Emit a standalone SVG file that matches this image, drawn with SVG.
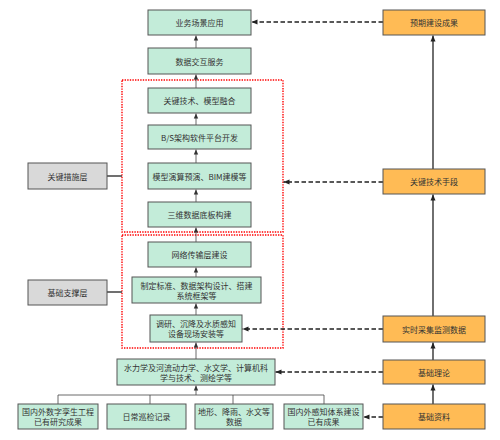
<svg xmlns="http://www.w3.org/2000/svg" width="500" height="440" viewBox="0 0 500 440">
<defs>
<style>
.g{fill:#c3ecd9;stroke:#555;stroke-width:1}
.o{fill:#ffbb55;stroke:#555;stroke-width:1}
.y{fill:#d9d9d9;stroke:#555;stroke-width:1}
text{font-family:"Noto Sans CJK SC","Liberation Sans",sans-serif;font-size:8px;fill:#333;text-anchor:middle;dominant-baseline:central}
.ln{stroke:#444;stroke-width:0.8;fill:none}
.lo{stroke:#222;stroke-width:1.3;fill:none}
.ds{stroke:#222;stroke-width:1.4;fill:none;stroke-dasharray:4.5,2.5}
.rd{stroke:#f00;stroke-width:1.4;fill:none;stroke-dasharray:1.4,1.2}
</style>
<marker id="a" markerWidth="6" markerHeight="6" refX="5" refY="3" orient="auto" markerUnits="userSpaceOnUse"><path d="M0,0.8 L5,3 L0,5.2 z" fill="#333"/></marker>
<marker id="b" markerWidth="8" markerHeight="8" refX="6" refY="4" orient="auto" markerUnits="userSpaceOnUse"><path d="M0,1.5 L6,4 L0,6.5 z" fill="#222"/></marker>
</defs>
<g id="frames">
<rect class="rd" x="122" y="80" width="161" height="152"/>
<rect class="rd" x="122" y="235" width="161" height="113"/>
</g>
<g id="connectors">
<line class="ln" x1="196" y1="48" x2="196" y2="35.5" marker-end="url(#a)"/>
<line class="ln" x1="196" y1="88" x2="196" y2="74.5" marker-end="url(#a)"/>
<line class="ln" x1="196" y1="125" x2="196" y2="113.5" marker-end="url(#a)"/>
<line class="ln" x1="196" y1="163" x2="196" y2="149.5" marker-end="url(#a)"/>
<line class="ln" x1="196" y1="202" x2="196" y2="189.5" marker-end="url(#a)"/>
<line class="ln" x1="196" y1="242" x2="196" y2="227.5" marker-end="url(#a)"/>
<line class="ln" x1="196" y1="277" x2="196" y2="267.5" marker-end="url(#a)"/>
<line class="ln" x1="196" y1="315" x2="196" y2="303.5" marker-end="url(#a)"/>
<line class="ln" x1="196" y1="359" x2="196" y2="342.5" marker-end="url(#a)"/>
<line class="ln" x1="196" y1="395" x2="196" y2="385.5" marker-end="url(#a)"/>
<polyline class="ln" points="58,404 58,395 324,395 324,404"/>
<line class="ln" x1="150" y1="395" x2="150" y2="404"/>
<line class="ln" x1="233" y1="395" x2="233" y2="404"/>
<line class="lo" x1="107" y1="176" x2="122" y2="176"/>
<line class="lo" x1="107" y1="292" x2="122" y2="292"/>
<line class="lo" x1="433" y1="404" x2="433" y2="384.5" marker-end="url(#b)"/>
<line class="lo" x1="433" y1="360" x2="433" y2="342.5" marker-end="url(#b)"/>
<line class="lo" x1="433" y1="316" x2="433" y2="194.5" marker-end="url(#b)"/>
<line class="lo" x1="433" y1="169" x2="433" y2="35.5" marker-end="url(#b)"/>
<line class="ds" x1="383" y1="22" x2="251.5" y2="22" marker-end="url(#b)"/>
<line class="ds" x1="383" y1="182" x2="283.5" y2="182" marker-end="url(#b)"/>
<line class="ds" x1="383" y1="329" x2="242.5" y2="329" marker-end="url(#b)"/>
<line class="ds" x1="383" y1="372" x2="275.5" y2="372" marker-end="url(#b)"/>
<line class="ds" x1="383" y1="417" x2="363.5" y2="417" marker-end="url(#b)"/>
</g>
<g id="n1"><rect class="g" x="148" y="10" width="103" height="25"/><text x="199.5" y="22.5">业务场景应用</text></g>
<g id="n2"><rect class="g" x="148" y="48" width="103" height="26"/><text x="199.5" y="61">数据交互服务</text></g>
<g id="n3"><rect class="g" x="148" y="88" width="103" height="25"/><text x="199.5" y="100.5">关键技术、模型融合</text></g>
<g id="n4"><rect class="g" x="148" y="125" width="103" height="24"/><text x="199.5" y="137">B/S架构软件平台开发</text></g>
<g id="n5"><rect class="g" x="148" y="163" width="103" height="26"/><text x="199.5" y="176">模型演算预演、BIM建模等</text></g>
<g id="n6"><rect class="g" x="148" y="202" width="103" height="25"/><text x="199.5" y="214.5">三维数据底板构建</text></g>
<g id="n7"><rect class="g" x="148" y="242" width="103" height="25"/><text x="199.5" y="254.5">网络传输层建设</text></g>
<g id="n8"><rect class="g" x="132" y="277" width="129" height="26"/><text x="196.5" y="285.5">制定标准、数据架构设计、搭建</text><text x="196.5" y="295">系统框架等</text></g>
<g id="n9"><rect class="g" x="150" y="315" width="92" height="27"/><text x="196" y="323.5">调研、沉降及水质感知</text><text x="196" y="333.5">设备现场安装等</text></g>
<g id="n10"><rect class="g" x="117" y="359" width="158" height="26"/><text x="196" y="367.5">水力学及河流动力学、水文学、计算机科</text><text x="196" y="377">学与技术、测绘学等</text></g>
<g id="n11"><rect class="g" x="18" y="404" width="80" height="25"/><text x="58" y="411.5">国内外数字孪生工程</text><text x="58" y="421.5">已有研究成果</text></g>
<g id="n12"><rect class="g" x="107" y="404" width="79" height="25"/><text x="146.5" y="416.5">日常巡检记录</text></g>
<g id="n13"><rect class="g" x="195" y="404" width="78" height="25"/><text x="234" y="411.5">地形、降雨、水文等</text><text x="234" y="421.5">数据</text></g>
<g id="n14"><rect class="g" x="284" y="404" width="79" height="25"/><text x="323.5" y="411.5">国内外感知体系建设</text><text x="323.5" y="421.5">已有成果</text></g>
<g id="l1"><rect class="y" x="28" y="163" width="79" height="26"/><text x="67.5" y="176">关键措施层</text></g>
<g id="l2"><rect class="y" x="28" y="280" width="79" height="25"/><text x="67.5" y="292.5">基础支撑层</text></g>
<g id="o1"><rect class="o" x="383" y="10" width="102" height="25"/><text x="434" y="22.5">预期建设成果</text></g>
<g id="o2"><rect class="o" x="383" y="169" width="102" height="25"/><text x="434" y="181.5">关键技术手段</text></g>
<g id="o3"><rect class="o" x="383" y="316" width="102" height="26"/><text x="434" y="329">实时采集监测数据</text></g>
<g id="o4"><rect class="o" x="383" y="360" width="102" height="24"/><text x="434" y="372">基础理论</text></g>
<g id="o5"><rect class="o" x="383" y="404" width="102" height="25"/><text x="434" y="416.5">基础资料</text></g>
</svg>
